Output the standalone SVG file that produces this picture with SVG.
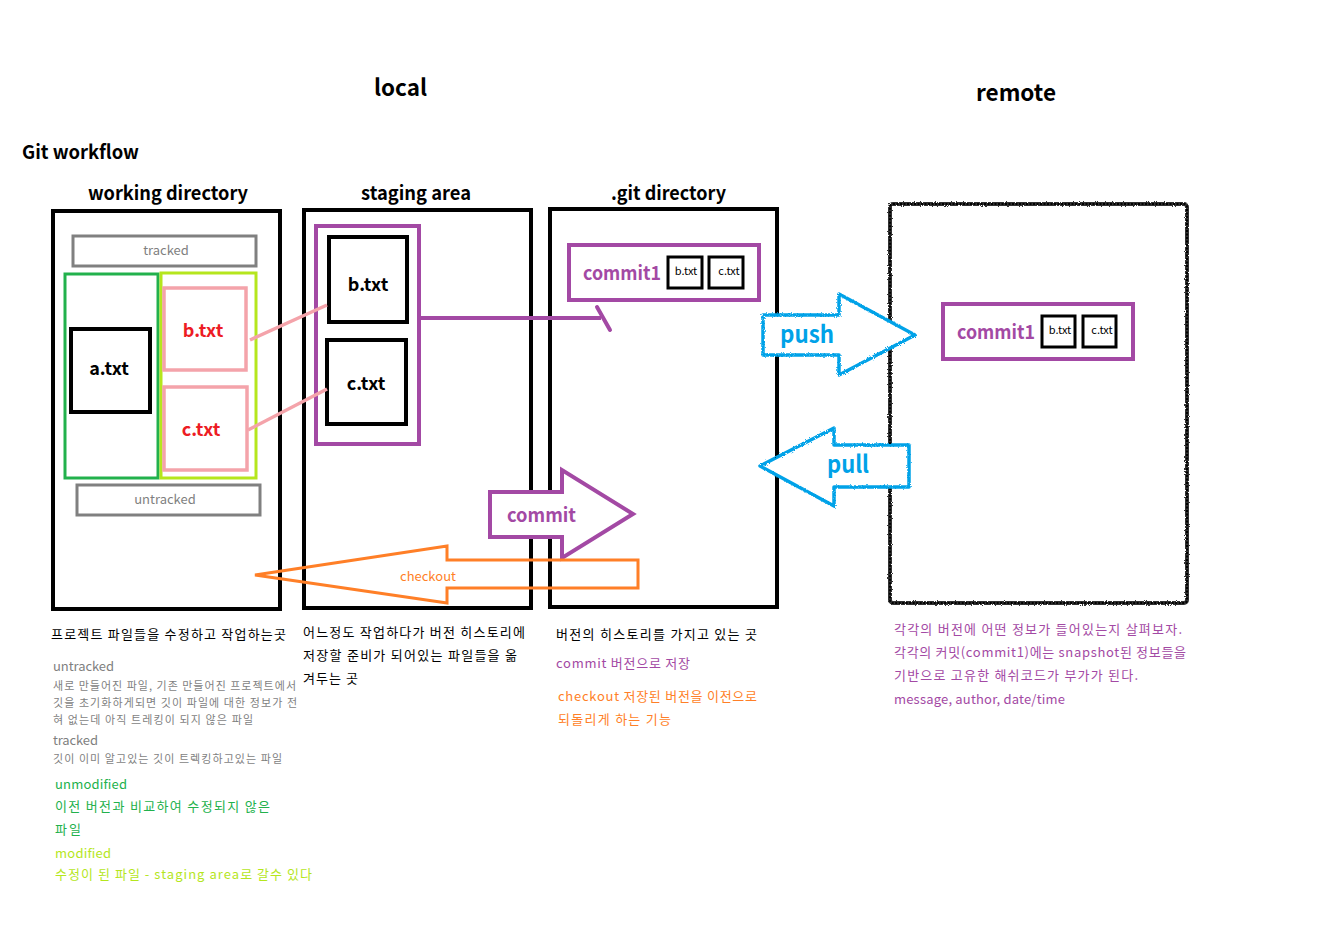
<svg xmlns="http://www.w3.org/2000/svg" width="1329" height="940" viewBox="0 0 1329 940">
<style>
text{font-family:'Noto Sans CJK KR','Noto Sans',sans-serif}
.title{font-weight:bold;fill:#000}
.box{fill:none;stroke:#000;stroke-width:4}
.sbox{fill:#fff;stroke:#000;stroke-width:3}
.purple{fill:none;stroke:#a349a4;stroke-width:4}
.gray{fill:none;stroke:#808080;stroke-width:3}
.pink{fill:none;stroke:#f4a3aa;stroke-width:3.5}
.file{font-size:18px;font-weight:bold;text-anchor:middle}
.small{font-size:11px;fill:#000;text-anchor:middle}
.note{font-size:13px}
.gnote{font-size:13px;fill:#7f7f7f}
.gsmall{font-size:11px;fill:#7f7f7f}
</style>
<defs>
<filter id="rough" x="-5%" y="-5%" width="110%" height="110%">
<feTurbulence type="fractalNoise" baseFrequency="0.9" numOctaves="2" seed="3" result="n"/>
<feDisplacementMap in="SourceGraphic" in2="n" scale="3"/>
</filter>
</defs>
<rect width="1329" height="940" fill="#fff"/>

<g id="titles">
<text class="title" x="374" y="96" font-size="23" textLength="53" lengthAdjust="spacingAndGlyphs">local</text>
<text class="title" x="976" y="101" font-size="23" textLength="80" lengthAdjust="spacingAndGlyphs">remote</text>
<text class="title" x="22" y="159" font-size="19" textLength="117" lengthAdjust="spacingAndGlyphs">Git workflow</text>
<text class="title" x="88" y="200" font-size="19" textLength="160" lengthAdjust="spacingAndGlyphs">working directory</text>
<text class="title" x="361" y="200" font-size="19" textLength="110" lengthAdjust="spacingAndGlyphs">staging area</text>
<text class="title" x="611" y="200" font-size="19" textLength="115" lengthAdjust="spacingAndGlyphs">.git directory</text>
</g>

<g id="working-directory">
<rect class="box" x="53" y="211" width="227" height="398"/>
<rect class="gray" x="73" y="236" width="183" height="30"/>
<text x="166" y="255" font-size="13" fill="#7f7f7f" text-anchor="middle">tracked</text>
<rect fill="none" stroke="#22b14c" stroke-width="3" x="65" y="274" width="93" height="204"/>
<rect fill="none" stroke="#b5e61d" stroke-width="3" x="161" y="273" width="95" height="205"/>
<rect class="box" x="71" y="329" width="79" height="83"/>
<text class="file" x="109" y="375" fill="#000">a.txt</text>
<rect class="pink" x="164" y="288" width="82" height="82"/>
<text class="file" x="203" y="337" fill="#ed1c24">b.txt</text>
<rect class="pink" x="164" y="387" width="83" height="83"/>
<text class="file" x="201" y="436" fill="#ed1c24">c.txt</text>
<rect class="gray" x="77" y="485" width="183" height="30"/>
<text x="165" y="504" font-size="13" fill="#7f7f7f" text-anchor="middle">untracked</text>
</g>

<g id="staging-area">
<rect class="box" x="304" y="210" width="227" height="398"/>
<rect class="purple" x="316" y="226" width="103" height="218"/>
<rect class="box" x="329" y="237" width="78" height="85"/>
<text class="file" x="368" y="291" fill="#000">b.txt</text>
<rect class="box" x="327" y="340" width="79" height="84"/>
<text class="file" x="366" y="390" fill="#000">c.txt</text>
</g>

<g id="git-directory">
<rect class="box" x="550" y="209" width="227" height="398"/>
<rect class="purple" x="569" y="245" width="190" height="55"/>
<text x="583" y="280" font-size="19" font-weight="bold" fill="#a349a4" textLength="78" lengthAdjust="spacingAndGlyphs">commit1</text>
<rect class="sbox" x="668" y="257" width="34" height="31"/>
<text class="small" x="686" y="275">b.txt</text>
<rect class="sbox" x="709" y="257" width="34" height="31"/>
<text class="small" x="729" y="275">c.txt</text>
</g>

<g id="remote">
<rect x="890" y="204" width="297" height="399" rx="3" fill="none" stroke="#333" stroke-width="4" filter="url(#rough)"/>
<rect x="890" y="204" width="297" height="399" rx="3" fill="none" stroke="#000" stroke-width="2" stroke-dasharray="2 1.5"/>
<rect class="purple" x="943" y="304" width="190" height="55"/>
<text x="957" y="339" font-size="19" font-weight="bold" fill="#a349a4" textLength="78" lengthAdjust="spacingAndGlyphs">commit1</text>
<rect class="sbox" x="1042" y="316" width="33" height="31"/>
<text class="small" x="1060" y="334">b.txt</text>
<rect class="sbox" x="1083" y="316" width="33" height="31"/>
<text class="small" x="1102" y="334">c.txt</text>
</g>

<g id="connectors">
<line x1="250" y1="340" x2="327" y2="305" stroke="#f4a3aa" stroke-width="3.5"/>
<line x1="248" y1="430" x2="327" y2="389" stroke="#f4a3aa" stroke-width="3.5"/>
<polyline points="419,318 601,318" fill="none" stroke="#a349a4" stroke-width="4"/>
<line x1="597" y1="307" x2="610" y2="330" stroke="#a349a4" stroke-width="4" stroke-linecap="round"/>
</g>

<g id="push">
<polygon points="763,315 839,315 839,294 915,335 839,375 839,355 763,355" fill="#fff" stroke="#00a2e8" stroke-width="3.5" stroke-linejoin="round" filter="url(#rough)"/>
<text x="780" y="343" font-size="24" font-weight="bold" fill="#00a2e8" textLength="54" lengthAdjust="spacingAndGlyphs">push</text>
</g>

<g id="pull">
<polygon points="909,445 834,445 834,428 760,466 834,506 834,487 909,487" fill="#fff" stroke="#00a2e8" stroke-width="3.5" stroke-linejoin="round" filter="url(#rough)"/>
<text x="827" y="473" font-size="24" font-weight="bold" fill="#00a2e8" textLength="42" lengthAdjust="spacingAndGlyphs">pull</text>
</g>

<g id="commit">
<polygon points="490,492 562,492 562,470 633,514 562,558 562,537 490,537" fill="#fff" stroke="#a349a4" stroke-width="4"/>
<text x="507" y="522" font-size="19" font-weight="bold" fill="#a349a4" textLength="69" lengthAdjust="spacingAndGlyphs">commit</text>
</g>

<g id="checkout">
<polygon points="638,560 447,560 447,546 255,575 447,603 447,588 638,588" fill="none" stroke="#ff7f27" stroke-width="3"/>
<text x="428" y="581" font-size="13" fill="#ff7f27" text-anchor="middle">checkout</text>
</g>

<g id="notes-working">
<text class="note" x="51" y="639" textLength="235" lengthAdjust="spacing">프로젝트 파일들을 수정하고 작업하는곳</text>
<text class="gnote" x="53" y="671" textLength="61" lengthAdjust="spacing">untracked</text>
<text class="gsmall" x="53" y="690" textLength="243" lengthAdjust="spacing">새로 만들어진 파일, 기존 만들어진 프로젝트에서</text>
<text class="gsmall" x="53" y="707" textLength="244" lengthAdjust="spacing">깃을 초기화하게되면 깃이 파일에 대한 정보가 전</text>
<text class="gsmall" x="53" y="724" textLength="200" lengthAdjust="spacing">혀 없는데 아직 트레킹이 되지 않은 파일</text>
<text class="gnote" x="53" y="745" textLength="45" lengthAdjust="spacing">tracked</text>
<text class="gsmall" x="53" y="763" textLength="229" lengthAdjust="spacing">깃이 이미 알고있는 깃이 트렉킹하고있는 파일</text>
<text class="note" x="55" y="789" fill="#22b14c" textLength="72" lengthAdjust="spacing">unmodified</text>
<text class="note" x="55" y="811" fill="#22b14c" textLength="215" lengthAdjust="spacing">이전 버전과 비교하여 수정되지 않은</text>
<text class="note" x="55" y="834" fill="#22b14c" textLength="26" lengthAdjust="spacing">파일</text>
<text class="note" x="55" y="858" fill="#b5e61d" textLength="56" lengthAdjust="spacing">modified</text>
<text class="note" x="55" y="879" fill="#b5e61d" textLength="257" lengthAdjust="spacing">수정이 된 파일  - staging area로 갈수 있다</text>
</g>

<g id="notes-staging">
<text class="note" x="303" y="637" textLength="222" lengthAdjust="spacing">어느정도 작업하다가 버전 히스토리에</text>
<text class="note" x="303" y="660" textLength="214" lengthAdjust="spacing">저장할 준비가 되어있는 파일들을 옮</text>
<text class="note" x="303" y="683" textLength="55" lengthAdjust="spacing">겨두는 곳</text>
</g>

<g id="notes-git">
<text class="note" x="556" y="639" textLength="201" lengthAdjust="spacing">버전의 히스토리를 가지고 있는 곳</text>
<text class="note" x="556" y="668" fill="#a349a4" textLength="134" lengthAdjust="spacing">commit 버전으로 저장</text>
<text class="note" x="558" y="701" fill="#ff7f27" textLength="199" lengthAdjust="spacing">checkout 저장된 버전을 이전으로</text>
<text class="note" x="558" y="724" fill="#ff7f27" textLength="113" lengthAdjust="spacing">되돌리게 하는 기능</text>
</g>

<g id="notes-remote">
<text class="note" x="894" y="634" fill="#a349a4" textLength="288" lengthAdjust="spacing">각각의 버전에 어떤 정보가 들어있는지 살펴보자.</text>
<text class="note" x="894" y="657" fill="#a349a4" textLength="292" lengthAdjust="spacing">각각의 커밋(commit1)에는 snapshot된 정보들을</text>
<text class="note" x="894" y="680" fill="#a349a4" textLength="244" lengthAdjust="spacing">기반으로 고유한 해쉬코드가 부가가 된다.</text>
<text class="note" x="894" y="704" fill="#a349a4" textLength="171" lengthAdjust="spacing">message, author, date/time</text>
</g>
</svg>
